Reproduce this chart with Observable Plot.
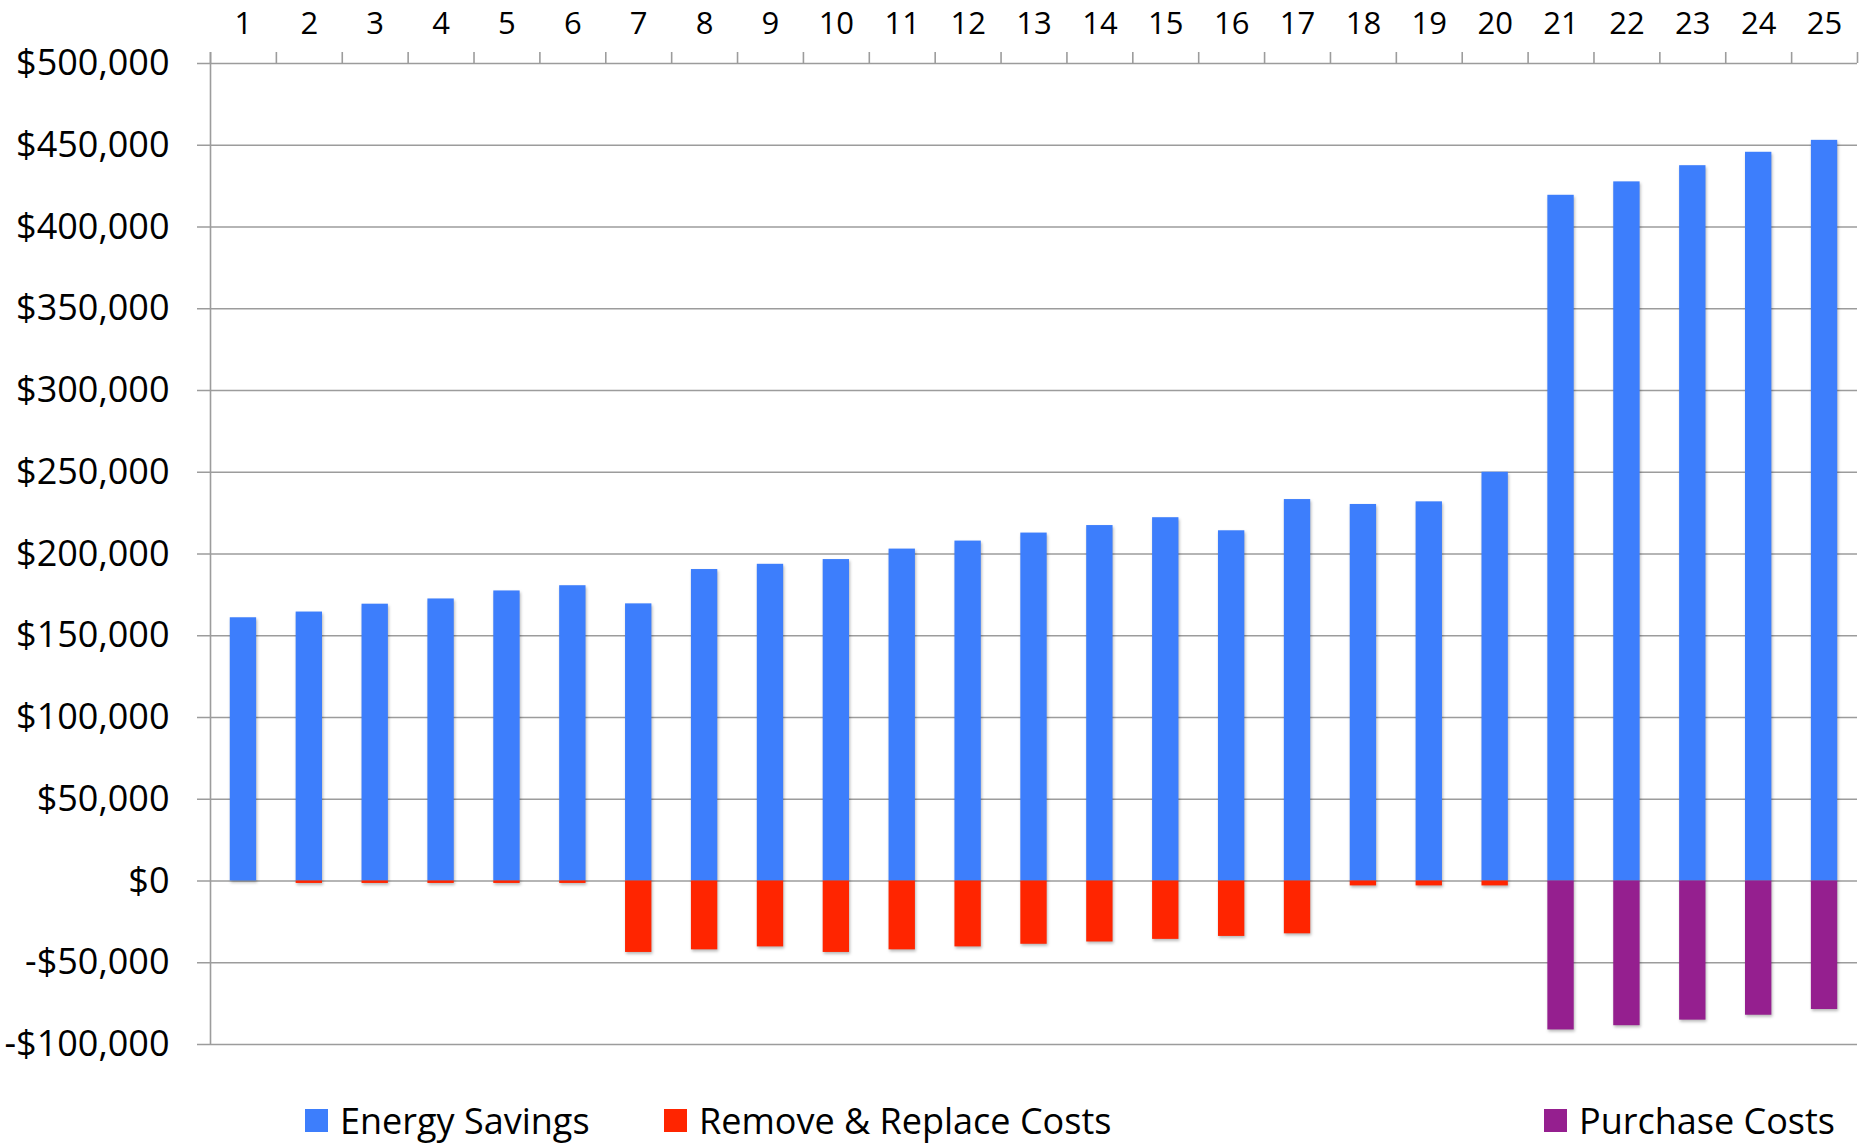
<!DOCTYPE html>
<html>
<head>
<meta charset="utf-8">
<script src="https://cdn.jsdelivr.net/npm/d3@7"></script>
<script src="https://cdn.jsdelivr.net/npm/@observablehq/plot@0.6"></script>
<style>
  html, body { margin: 0; padding: 0; background: #fff; }
  #wrap { position: relative; width: 1860px; height: 1147px; font-family: "Open Sans", sans-serif; overflow: hidden; }
  #chart svg { display: block; }
  #legend { position: absolute; left: 0; top: 1080px; width: 1860px; height: 67px; }
  .item { position: absolute; top: 14px; height: 53px; display: flex; align-items: center; font-size: 36px; line-height: 48px; color: #000; white-space: nowrap; }
  .sw { width: 23px; height: 23px; margin-right: 12px; }
  .bars { filter: drop-shadow(1px 2px 1.5px rgba(0,0,0,0.28)); }
</style>
</head>
<body>
<div id="wrap">
  <div id="chart"></div>
  <div id="legend"></div>
</div>
<script>
// ---- data ----
const years = [1, 2, 3, 4, 5, 6, 7, 8, 9, 10, 11, 12, 13, 14, 15, 16, 17, 18, 19, 20, 21, 22, 23, 24, 25];
const energySavings = [161000, 164500, 169300, 172500, 177400, 180600, 169500, 190500, 193700, 196600,
  203000, 207900, 212800, 217400, 222200, 214200, 233300, 230300, 231900, 250000,
  419400, 427600, 437500, 445700, 453000];
const removeReplaceCosts = [0, -1500, -1500, -1500, -1500, -1500, -43700, -42100, -40300, -43700,
  -42100, -40300, -38700, -37300, -35700, -33900, -32300, -3000, -3000, -3000,
  0, 0, 0, 0, 0];
const purchaseCosts = [0, 0, 0, 0, 0, 0, 0, 0, 0, 0, 0, 0, 0, 0, 0, 0, 0, 0, 0, 0,
  -91100, -88500, -85100, -82100, -78600];
const yTicks = [-100000, -50000, 0, 50000, 100000, 150000, 200000, 250000, 300000, 350000, 400000, 450000, 500000];
const seriesNames = ["Energy Savings", "Remove & Replace Costs", "Purchase Costs"];
const seriesColors = ["#3d7efc", "#ff2500", "#951f8f"];
const legendLeft = [305, 664, 1544];

// ---- build ----
const seriesValues = [energySavings, removeReplaceCosts, purchaseCosts];
const table = seriesValues.flatMap((vals, s) =>
  years.map((yr, i) => ({year: yr, value: vals[i], series: seriesNames[s]})).filter(d => d.value !== 0));
const boundaries = years.map(y => y - 0.5).concat([years[years.length - 1] + 0.5]);
const fmt = d => (d < 0 ? "-" : "") + "$" + d3.format(",")(Math.abs(d));
const half = 0.2;

const chart = Plot.plot({
  width: 1860,
  height: 1080,
  marginTop: 63,
  marginBottom: 36,
  marginLeft: 210,
  marginRight: 3,
  style: {fontFamily: "'Open Sans', sans-serif", color: "#000", background: "#fff"},
  x: {type: "linear", domain: [boundaries[0], boundaries[boundaries.length - 1]], axis: null},
  y: {domain: [yTicks[0], yTicks[yTicks.length - 1]], axis: null},
  color: {domain: seriesNames, range: seriesColors},
  marks: [
    Plot.ruleY(yTicks, {stroke: "#9c9c9c", strokeWidth: 1.6, insetLeft: -13}),
    Plot.ruleX([boundaries[0]], {stroke: "#9c9c9c", strokeWidth: 1.6, insetTop: -11}),
    Plot.ruleX(boundaries, {y1: yTicks[yTicks.length - 1], y2: yTicks[yTicks.length - 1], insetTop: -11, stroke: "#9c9c9c", strokeWidth: 1.6}),
    Plot.rect(table, {x1: d => d.year - half, x2: d => d.year + half, y1: 0, y2: "value", fill: "series", className: "bars"}),
    Plot.text(years, {x: d => d, frameAnchor: "top", dy: -39, text: d => String(d), fontSize: 31, fill: "#000", lineAnchor: "middle"}),
    Plot.text(yTicks, {y: d => d, frameAnchor: "left", dx: -41, textAnchor: "end", text: fmt, fontSize: 36, fill: "#000", lineAnchor: "middle"})
  ]
});
document.getElementById("chart").appendChild(chart);

const legend = document.getElementById("legend");
seriesNames.forEach((name, i) => {
  const item = document.createElement("div");
  item.className = "item";
  item.style.left = legendLeft[i] + "px";
  const sw = document.createElement("div");
  sw.className = "sw";
  sw.style.background = seriesColors[i];
  const label = document.createElement("span");
  label.textContent = name;
  item.appendChild(sw);
  item.appendChild(label);
  legend.appendChild(item);
});
</script>
</body>
</html>
